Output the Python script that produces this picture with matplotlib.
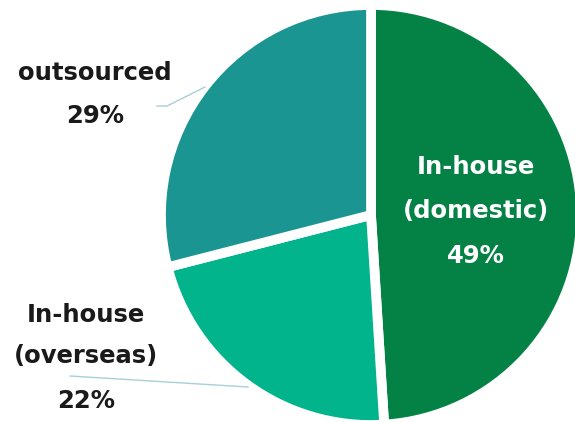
import matplotlib
matplotlib.use("Agg")
import matplotlib.pyplot as plt

# Share of production by location
categories = ["In-house\n(domestic)", "In-house\n(overseas)", "outsourced"]
shares = [49, 22, 29]
colors = ["#048245", "#02b48b", "#1a9592"]

W, H = 575, 422
fig = plt.figure(figsize=(W / 100, H / 100), dpi=100)
ax = fig.add_axes([0, 0, 1, 1])

cx, cy, r = 371, H - 215, 210
ax.pie(shares, colors=colors, startangle=90, counterclock=False,
       center=(cx, cy), radius=r,
       wedgeprops=dict(edgecolor="white", linewidth=7))
ax.set_xlim(0, W)
ax.set_ylim(0, H)
ax.set_aspect("equal")
ax.axis("off")

font = dict(fontweight="bold", fontsize=17.5, ha="center", va="baseline",
            family="DejaVu Sans")


def label(lines, x, baselines, color):
    for text, yb in zip(lines, baselines):
        ax.text(x, H - yb, text, color=color, **font)


# inside label for the large slice
label(categories[0].split("\n") + [f"{shares[0]}%"], 476, [174, 218, 263], "white")

# outside labels with leader lines
lead = "#a8cfd6"
label([categories[2], f"{shares[2]}%"], 95, [80, 123], "#1a1a1a")
ax.plot([157, 167, 205], [H - 106, H - 106, H - 87], color=lead, lw=1)

label(categories[1].split("\n") + [f"{shares[1]}%"], 86, [322, 363, 408], "#1a1a1a")
ax.plot([70, 248], [H - 376, H - 387], color=lead, lw=1)

fig.savefig("out.png", dpi=100)
